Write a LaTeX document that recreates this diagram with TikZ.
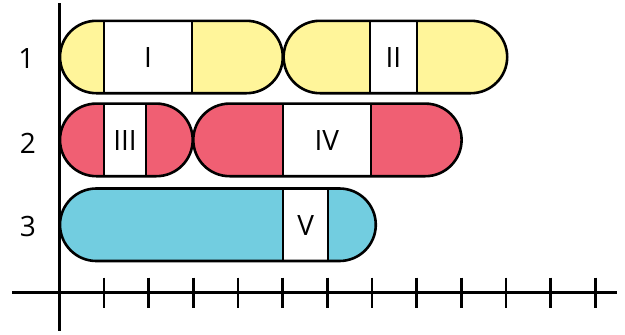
\documentclass[tikz,border=0pt]{standalone}
\usepackage{fontspec}
\setmainfont{Open Sans}
\definecolor{pyellow}{RGB}{255,245,154}
\definecolor{pred}{RGB}{240,95,115}
\definecolor{pblue}{RGB}{114,205,224}
\tikzset{
  axisline/.style={line width=3pt, black},
  tickline/.style={line width=2.6pt, black},
  pillout/.style={line width=2.6pt, black},
  divline/.style={line width=2.1pt, black},
  lbl/.style={font=\fontsize{28}{28}\selectfont, inner sep=0pt, anchor=center},
}
% \mypill{x1}{x2}{top}{bottom}{color}{wx1}{wx2}{label}{name}
\newcommand{\mypill}[9]{%
  \fill[#5, rounded corners=36.3pt] (#1,#3) rectangle (#2,#4);
  \fill[white] (#6,#3) rectangle (#7,#4);
  \draw[divline] (#6,#3) -- (#6,#4);
  \draw[divline] (#7,#3) -- (#7,#4);
  \draw[pillout, rounded corners=36.3pt] (#1,#3) rectangle (#2,#4);
  \node[lbl] (#9) at ({(#6+#7)/2},{(#3+#4)/2+1}) {#8};
}
\begin{document}
\begin{tikzpicture}[x=1pt,y=-1pt]
\useasboundingbox (0,0) rectangle (625,335);
% row 1
\mypill{60}{282.8}{20.8}{93.2}{pyellow}{103.6}{192.3}{I}{lI}
\mypill{283.6}{507.2}{20.8}{93.2}{pyellow}{370.2}{416.7}{II}{lII}
% row 2
\mypill{60}{192.7}{103.6}{176.2}{pred}{104}{146}{III}{lIII}
\mypill{193.3}{461.6}{103.6}{176.2}{pred}{282.8}{371}{IV}{lIV}
% row 3
\mypill{60}{375.8}{188.5}{261}{pblue}{283.3}{328.3}{V}{lV}
% axes
\draw[axisline] (59.3,3) -- (59.3,331);
\draw[axisline] (12,292.5) -- (617,292.5);
\foreach \k in {1,...,12}{
  \draw[tickline] ({59.2+44.68*\k},277.5) -- ({59.2+44.68*\k},307.5);
}
% row labels
\node[lbl] (r1) at (26.5,58.5) {1};
\node[lbl] (r2) at (28,143) {2};
\node[lbl] (r3) at (28,226.5) {3};
\end{tikzpicture}
\end{document}
